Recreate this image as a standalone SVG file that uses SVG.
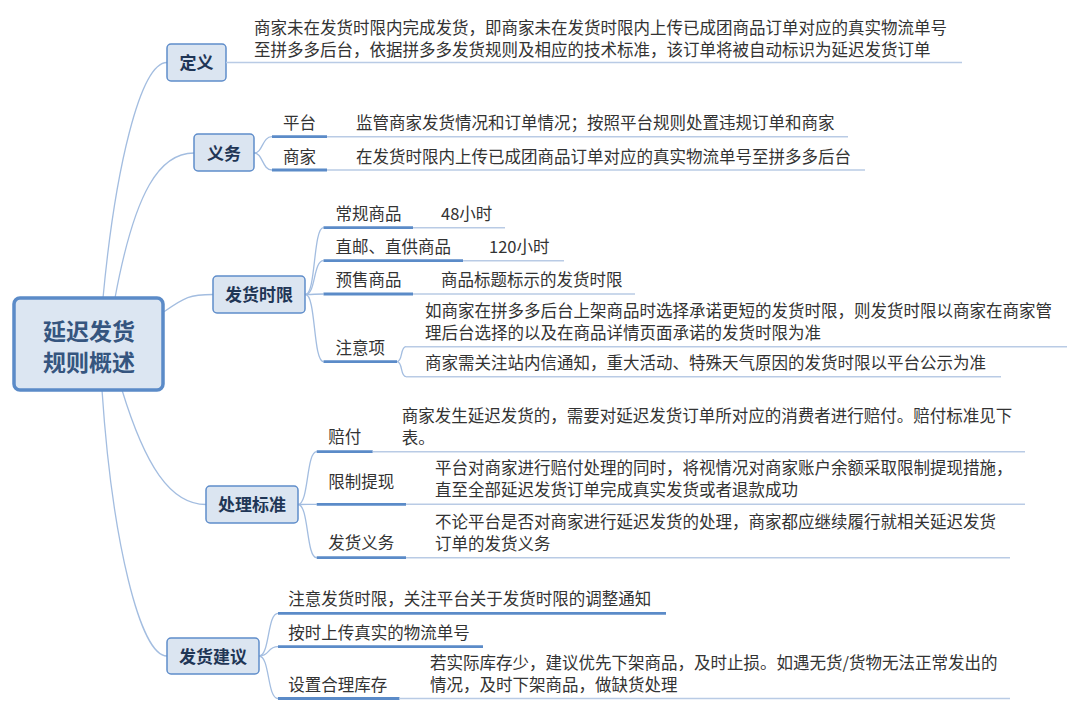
<svg xmlns="http://www.w3.org/2000/svg" width="1080" height="713" viewBox="0 0 1080 713">
<style>
text{font-family:"Noto Sans CJK SC","Liberation Sans",sans-serif;}
.t{font-size:16.5px;fill:#333333;}
.b{font-size:17px;font-weight:bold;fill:#1f3656;text-anchor:middle;}
.r{font-size:23px;font-weight:bold;fill:#35557f;text-anchor:middle;}
.box{fill:#dbe5f1;stroke:#5f8dca;stroke-width:1.5;}
.root{fill:#dce6f2;stroke:#5b8bc8;stroke-width:3.5;}
.dk{stroke:#5b8bc8;stroke-width:2.8;fill:none;}
.lt{stroke:#b9cbe5;stroke-width:1.6;fill:none;}
.c{stroke:#a3bde0;stroke-width:1.3;fill:none;}
</style>
<rect width="1080" height="713" fill="#ffffff"/>
<g id="connectors">
<path class="c" d="M103,298 C115,170 140,62.5 167,62.5"/>
<path class="c" d="M115,298 C135,190 160,153 194,153"/>
<path class="c" d="M164,311.7 C185,297 190,294.5 213,294.5"/>
<path class="c" d="M122,390 C145,465 170,504.5 206,504.5"/>
<path class="c" d="M102,390 C112,540 140,656 167,656"/>
<path class="c" d="M254,153 C263,153 262,136.7 272,136.7"/>
<path class="c" d="M254,153 C263,153 262,170 272,170"/>
<path class="c" d="M305.5,294.5 C316,294.5 313,227.7 323.5,227.7"/>
<path class="c" d="M305.5,294.5 C316,294.5 313,260.7 323.5,260.7"/>
<path class="c" d="M305.5,294.5 C316,294.5 313,294 323.5,294"/>
<path class="c" d="M305.5,294.5 C316,294.5 313,361.7 323.5,361.7"/>
<path class="c" d="M397,361.7 C403,361.7 400,346.7 406,346.7"/>
<path class="c" d="M397,361.7 C403,361.7 400,376.7 406,376.7"/>
<path class="c" d="M298,504.5 C309,504.5 306,451.7 316.7,451.7"/>
<path class="c" d="M298,504.5 C309,504.5 306,504.3 316.7,504.3"/>
<path class="c" d="M298,504.5 C309,504.5 306,557.7 316.7,557.7"/>
<path class="c" d="M259,656 C270,656 267,613.3 278,613.3"/>
<path class="c" d="M259,656 C270,656 267,646.7 278,646.7"/>
<path class="c" d="M259,656 C270,656 267,698.5 278,698.5"/>
</g>
<g id="root">
<rect class="root" x="14" y="298" width="149" height="92" rx="6"/>
<text class="r" x="89" y="340">延迟发货</text>
<text class="r" x="89" y="371">规则概述</text>
</g>
<g id="node-dingyi">
<rect class="box" x="167" y="44" width="59" height="37" rx="4"/>
<text class="b" x="196.5" y="68.5">定义</text>
<line class="lt" x1="226" y1="62.5" x2="962" y2="62.5"/>
<text class="t" x="254" y="34">商家未在发货时限内完成发货，即商家未在发货时限内上传已成团商品订单对应的真实物流单号</text>
<text class="t" x="254" y="56">至拼多多后台，依据拼多多发货规则及相应的技术标准，该订单将被自动标识为延迟发货订单</text>
</g>
<g id="node-yiwu">
<rect class="box" x="194" y="134" width="60" height="37" rx="4"/>
<text class="b" x="224" y="159.5">义务</text>
</g>
<g id="node-pingtai">
<line class="dk" x1="272" y1="136.7" x2="327" y2="136.7"/>
<line class="lt" x1="327" y1="136.7" x2="848" y2="136.7"/>
<text class="t" x="283" y="129">平台</text>
<text class="t" x="356" y="129">监管商家发货情况和订单情况；按照平台规则处置违规订单和商家</text>
</g>
<g id="node-shangjia">
<line class="dk" x1="272" y1="170" x2="327" y2="170"/>
<line class="lt" x1="327" y1="170" x2="865" y2="170"/>
<text class="t" x="283" y="162.5">商家</text>
<text class="t" x="356" y="162.5">在发货时限内上传已成团商品订单对应的真实物流单号至拼多多后台</text>
</g>
<g id="node-fahuoshixian">
<rect class="box" x="213" y="276" width="92" height="37" rx="4"/>
<text class="b" x="259" y="301">发货时限</text>
</g>
<g id="node-changgui">
<line class="dk" x1="323.5" y1="227.7" x2="413" y2="227.7"/>
<line class="lt" x1="413" y1="227.7" x2="505" y2="227.7"/>
<text class="t" x="335.5" y="220">常规商品</text>
<text class="t" x="441" y="220">48小时</text>
</g>
<g id="node-zhiyou">
<line class="dk" x1="323.5" y1="260.7" x2="463" y2="260.7"/>
<line class="lt" x1="463" y1="260.7" x2="564" y2="260.7"/>
<text class="t" x="335.5" y="253">直邮、直供商品</text>
<text class="t" x="489" y="253">120小时</text>
</g>
<g id="node-yushou">
<line class="dk" x1="323.5" y1="294" x2="413" y2="294"/>
<line class="lt" x1="413" y1="294" x2="635" y2="294"/>
<text class="t" x="335.5" y="286">预售商品</text>
<text class="t" x="441" y="286">商品标题标示的发货时限</text>
</g>
<g id="node-zhuyixiang">
<line class="dk" x1="323.5" y1="361.7" x2="397" y2="361.7"/>
<text class="t" x="335.5" y="354">注意项</text>
<line class="lt" x1="406" y1="346.7" x2="1067" y2="346.7"/>
<text class="t" x="425" y="316.5">如商家在拼多多后台上架商品时选择承诺更短的发货时限，则发货时限以商家在商家管</text>
<text class="t" x="425" y="338.5">理后台选择的以及在商品详情页面承诺的发货时限为准</text>
<line class="lt" x1="406" y1="376.7" x2="1001" y2="376.7"/>
<text class="t" x="425" y="369">商家需关注站内信通知，重大活动、特殊天气原因的发货时限以平台公示为准</text>
</g>
<g id="node-chulibiaozhun">
<rect class="box" x="206" y="486" width="92" height="37" rx="4"/>
<text class="b" x="252" y="511">处理标准</text>
</g>
<g id="node-peifu">
<line class="dk" x1="316.7" y1="451.7" x2="372.7" y2="451.7"/>
<line class="lt" x1="372.7" y1="451.7" x2="1025" y2="451.7"/>
<text class="t" x="328.3" y="443">赔付</text>
<text class="t" x="401.7" y="422">商家发生延迟发货的，需要对延迟发货订单所对应的消费者进行赔付。赔付标准见下</text>
<text class="t" x="401.7" y="444">表。</text>
</g>
<g id="node-xianzhi">
<line class="dk" x1="316.7" y1="504.3" x2="406" y2="504.3"/>
<line class="lt" x1="406" y1="504.3" x2="1025" y2="504.3"/>
<text class="t" x="328.3" y="488">限制提现</text>
<text class="t" x="435" y="474">平台对商家进行赔付处理的同时，将视情况对商家账户余额采取限制提现措施，</text>
<text class="t" x="435" y="496">直至全部延迟发货订单完成真实发货或者退款成功</text>
</g>
<g id="node-fahuoyiwu">
<line class="dk" x1="316.7" y1="557.7" x2="406" y2="557.7"/>
<line class="lt" x1="406" y1="557.7" x2="1010" y2="557.7"/>
<text class="t" x="328.3" y="549">发货义务</text>
<text class="t" x="435" y="527.5">不论平台是否对商家进行延迟发货的处理，商家都应继续履行就相关延迟发货</text>
<text class="t" x="435" y="549.5">订单的发货义务</text>
</g>
<g id="node-fahuojianyi">
<rect class="box" x="167" y="638" width="92" height="36" rx="4"/>
<text class="b" x="213" y="662.5">发货建议</text>
</g>
<g id="node-jianyi1">
<line class="dk" x1="278" y1="613.3" x2="666" y2="613.3"/>
<text class="t" x="288.3" y="605">注意发货时限，关注平台关于发货时限的调整通知</text>
</g>
<g id="node-jianyi2">
<line class="dk" x1="278" y1="646.7" x2="483" y2="646.7"/>
<text class="t" x="288.3" y="638.5">按时上传真实的物流单号</text>
</g>
<g id="node-jianyi3">
<line class="dk" x1="278" y1="698.5" x2="399.5" y2="698.5"/>
<line class="lt" x1="399.5" y1="698.5" x2="1010" y2="698.5"/>
<text class="t" x="288.3" y="691">设置合理库存</text>
<text class="t" x="430" y="669">若实际库存少，建议优先下架商品，及时止损。如遇无货/货物无法正常发出的</text>
<text class="t" x="430" y="691">情况，及时下架商品，做缺货处理</text>
</g>
</svg>
